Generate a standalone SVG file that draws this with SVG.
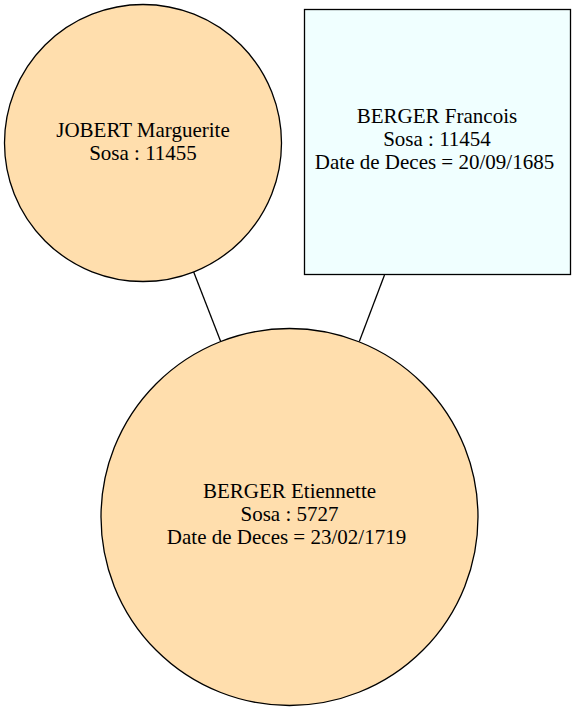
<svg xmlns="http://www.w3.org/2000/svg" width="576" height="711" viewBox="0 0 576 711">
<style>
.node { stroke: #000; stroke-width: 1.3; }
.person { fill: #ffdead; }
.box { fill: #f0ffff; }
text { font-family: "Liberation Serif", "Times New Roman", serif; font-size: 21px; text-anchor: middle; fill: #000; }
.edge { stroke: #000; stroke-width: 1.3; fill: none; }
</style>
<rect width="576" height="711" fill="#fff"/>
<g id="connectors">
<line class="edge" x1="193.3" y1="271" x2="220.7" y2="341.5"/>
<line class="edge" x1="384.5" y1="275" x2="359.3" y2="341.5"/>
</g>
<g id="node-jobert">
<circle class="node person" cx="143" cy="143" r="138.5"/>
<text x="143" y="137">JOBERT Marguerite</text>
<text x="143" y="159.5">Sosa : 11455</text>
</g>
<g id="node-berger-francois">
<rect class="node box" x="304.5" y="9.5" width="266" height="265"/>
<text x="437" y="122.5">BERGER Francois</text>
<text x="437" y="145.5">Sosa : 11454</text>
<text x="434.5" y="168.5">Date de Deces = 20/09/1685</text>
</g>
<g id="node-berger-etiennette">
<circle class="node person" cx="289.5" cy="517" r="188.5"/>
<text x="289.5" y="497.5">BERGER Etiennette</text>
<text x="289.5" y="520.5">Sosa : 5727</text>
<text x="286.5" y="543.5">Date de Deces = 23/02/1719</text>
</g>
</svg>
